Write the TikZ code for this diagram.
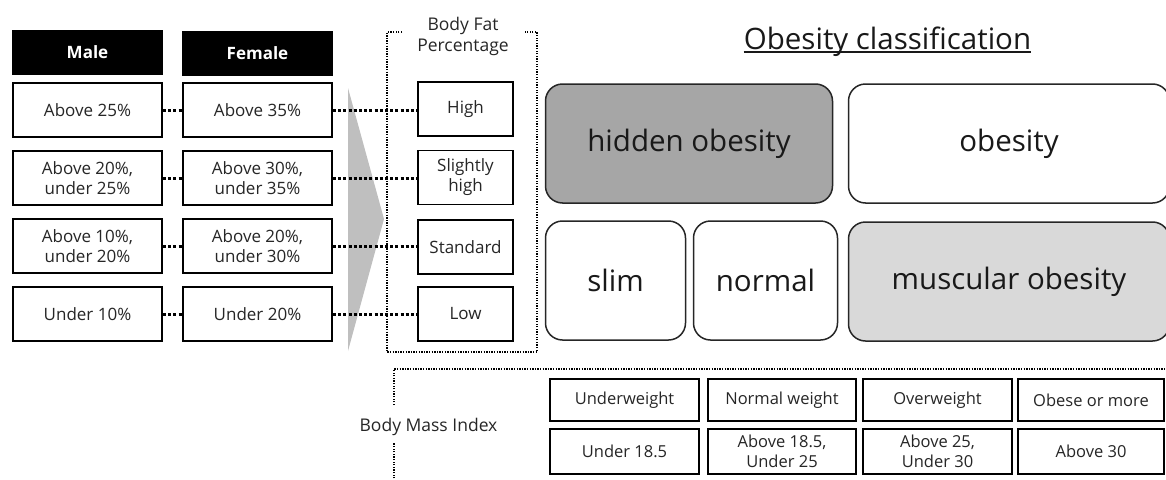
\documentclass[tikz,border=0pt]{standalone}
\usepackage{fontspec}
\setmainfont{Open Sans}
\begin{document}
\begin{tikzpicture}[x=1pt,y=-1pt,
  sm/.style={font=\fontsize{17}{20}\selectfont},
  box/.style={draw=black, line width=1.8pt, fill=white, sm, align=center, inner sep=0pt, text=black!85},
  hdr/.style={fill=black, text=white, font=\fontsize{17}{20}\selectfont\bfseries, inner sep=0pt, minimum width=151pt, minimum height=45pt},
  colbox/.style={box, minimum width=149pt, minimum height=54pt},
  bfpbox/.style={box, minimum width=95pt, minimum height=54pt},
  cls/.style={draw=black!85, line width=1.5pt, rounded corners=17pt, font=\fontsize{29.5}{34}\selectfont, inner sep=0pt, minimum height=119pt, text=black!90},
  bmibox/.style={box, line width=2pt, font=\fontsize{16.5}{20}\selectfont},
  conn/.style={line width=3pt, dash pattern=on 3pt off 2.2pt},
  frame/.style={line width=1.3pt, dash pattern=on 1.3pt off 1.3pt}
]
\useasboundingbox (0,0) rectangle (1166,479);

% gray arrow
\fill[gray!50] (348,88) -- (384,219) -- (348,351) -- cycle;

% headers
\node[hdr] (male) at (87.5,52.5) {Male};
\node[hdr] (female) at (257.5,53) {Female};

% male column
\node[colbox] (m1) at (87.5,110) {Above 25\%};
\node[colbox] (m2) at (87.5,178) {Above 20\%,\\under 25\%};
\node[colbox] (m3) at (87.5,246) {Above 10\%,\\under 20\%};
\node[colbox] (m4) at (87.5,314) {Under 10\%};

% female column
\node[colbox] (f1) at (257.5,110) {Above 35\%};
\node[colbox] (f2) at (257.5,178) {Above 30\%,\\under 35\%};
\node[colbox] (f3) at (257.5,246) {Above 20\%,\\under 30\%};
\node[colbox] (f4) at (257.5,314) {Under 20\%};

% body fat frame
\node[font=\fontsize{17.5}{21}\selectfont, align=center, inner sep=0pt, text=black!85] (bfplabel) at (463,36) {Body Fat\\Percentage};
\draw[frame] (402,32) -- (387,32) -- (387,352) -- (537,352) -- (537,32) -- (525,32);

% body fat boxes
\node[bfpbox] (b1) at (465.5,109) {High};
\node[bfpbox] (b2) at (465.5,177.5) {Slightly\\high};
\node[bfpbox] (b3) at (465.5,247) {Standard};
\node[bfpbox] (b4) at (465.5,314) {Low};

% connectors
\foreach \i in {1,2,3,4}{
  \draw[conn] (m\i.east) -- (f\i.west);
  \draw[conn] (f\i.east) -- (f\i.east -| b\i.west);
}

% title
\node[font=\fontsize{29.5}{34}\selectfont, inner sep=0pt, anchor=base, text=black!90] (title) at (887.5,49) {Obesity classification};
\draw[line width=1.2pt, black!90] ([yshift=-3pt]title.base west) -- ([yshift=-3pt]title.base east);

% classification boxes
\node[cls, fill=black!35, minimum width=287pt] (hid) at (689,143.5) {hidden obesity};
\node[cls, fill=white, minimum width=321pt] (obe) at (1009,143.5) {obesity};
\node[cls, fill=white, minimum width=140pt] (slim) at (615.5,280.5) {slim};
\node[cls, fill=white, minimum width=144pt] (norm) at (765.5,280.5) {normal};
\node[cls, fill=black!15, minimum width=321pt] (musc) at (1009,281.5) {muscular obesity};

% BMI
\node[font=\fontsize{17.5}{21}\selectfont, inner sep=0pt, text=black!85] (bmilabel) at (428.5,427) {Body Mass Index};
\draw[frame] (394,481) -- (394,443);
\draw[frame] (394,405) -- (394,369) -- (1168,369);

\node[bmibox, minimum width=149pt, minimum height=42pt] (u1) at (624.5,400) {Underweight};
\node[bmibox, minimum width=148pt, minimum height=42pt] (n1) at (782,400) {Normal weight};
\node[bmibox, minimum width=149pt, minimum height=42pt] (o1) at (937.5,400) {Overweight};
\node[bmibox, minimum width=146pt, minimum height=42pt] (ob1) at (1091,400) {Obese or more};
\node[bmibox, minimum width=149pt, minimum height=45pt] (u2) at (624.5,451.5) {Under 18.5};
\node[bmibox, minimum width=148pt, minimum height=45pt] (n2) at (782,451.5) {Above 18.5,\\Under 25};
\node[bmibox, minimum width=149pt, minimum height=45pt] (o2) at (937.5,451.5) {Above 25,\\Under 30};
\node[bmibox, minimum width=146pt, minimum height=45pt] (ob2) at (1091,451.5) {Above 30};
\end{tikzpicture}
\end{document}
